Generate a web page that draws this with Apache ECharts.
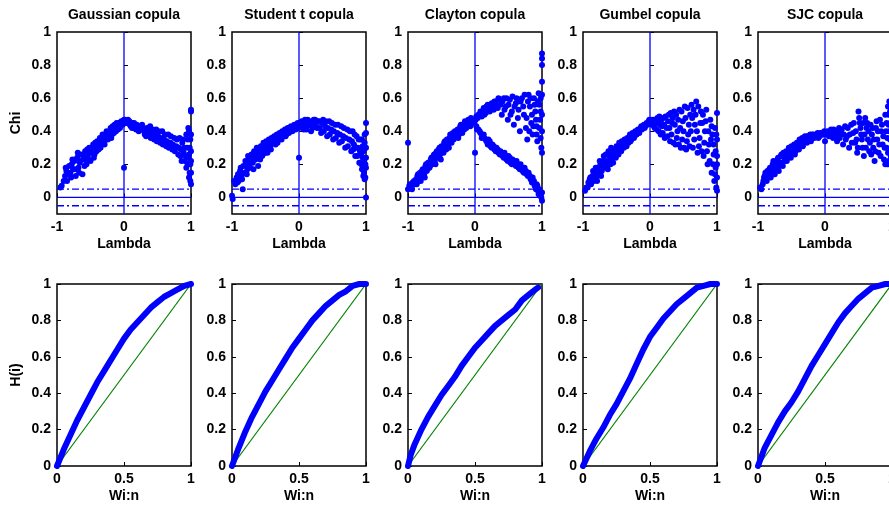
<!DOCTYPE html>
<html>
<head>
<meta charset="utf-8">
<script src="https://cdn.jsdelivr.net/npm/echarts@6/dist/echarts.min.js"></script>
<style>
  html, body { margin: 0; padding: 0; background: #fff; }
  #chart { width: 889px; height: 506px; }
</style>
</head>
<body>
<div id="chart"></div>
<script>
// copula names (panel titles)
var copulas = ['Gaussian copula', 'Student t copula', 'Clayton copula', 'Gumbel copula', 'SJC copula'];

// chi-plot points [lambda, chi]
var chiGaussian = [[-0.95,0.06],[-0.93,0.07],[-0.88,0.13],[-0.86,0.16],[-0.85,0.1],[-0.82,0.19],[-0.8,0.15],[-0.78,0.2],[-0.76,0.17],[-0.74,0.22],[-0.72,0.13],[-0.7,0.24],[-0.68,0.18],[-0.66,0.21],[-0.64,0.26],[-0.62,0.14],[-0.6,0.23],[-0.58,0.28],[-0.56,0.2],[-0.54,0.25],[-0.52,0.3],[-0.5,0.22],[-0.48,0.27],[-0.46,0.32],[-0.44,0.26],[-0.42,0.3],[-0.4,0.34],[-0.38,0.29],[-0.36,0.36],[-0.34,0.32],[-0.32,0.38],[-0.3,0.34],[-0.28,0.37],[-0.26,0.4],[-0.24,0.35],[-0.22,0.39],[-0.2,0.42],[-0.18,0.38],[-0.16,0.41],[-0.14,0.44],[-0.12,0.4],[-0.1,0.43],[-0.08,0.45],[-0.06,0.42],[-0.04,0.46],[-0.02,0.44],[0,0.47],[0,0.18],
  [-0.9,0.1],[-0.87,0.18],[-0.83,0.14],[-0.79,0.12],[-0.77,0.23],[-0.73,0.17],[-0.69,0.27],[-0.67,0.15],[-0.65,0.22],[-0.61,0.25],[-0.59,0.19],[-0.57,0.24],[-0.55,0.29],[-0.53,0.23],[-0.51,0.27],[-0.47,0.3],[-0.45,0.24],[-0.43,0.33],[-0.41,0.28],[-0.39,0.32],[-0.37,0.33],[-0.35,0.3],[-0.33,0.35],[-0.31,0.37],[-0.29,0.32],[-0.27,0.35],[-0.25,0.38],[-0.23,0.37],[-0.21,0.4],[-0.19,0.36],[-0.17,0.43],[-0.15,0.39],[-0.13,0.42],[-0.11,0.45],[-0.09,0.41],[-0.07,0.43],[-0.05,0.44],[-0.03,0.45],[-0.01,0.46],
  [0.02,0.47],[0.05,0.45],[0.08,0.46],[0.1,0.43],[0.13,0.45],[0.16,0.42],[0.19,0.44],[0.22,0.4],[0.25,0.43],[0.28,0.41],[0.31,0.38],[0.34,0.42],[0.37,0.39],[0.4,0.36],[0.43,0.41],[0.46,0.38],[0.49,0.34],[0.52,0.4],[0.55,0.36],[0.58,0.32],[0.61,0.38],[0.64,0.34],[0.67,0.3],[0.7,0.37],[0.73,0.32],[0.76,0.28],[0.79,0.35],[0.82,0.3],[0.84,0.25],[0.87,0.33],[0.89,0.27],[0.91,0.22],[0.93,0.38],[0.94,0.3],[0.95,0.2],[0.96,0.42],[0.97,0.26],[0.98,0.15],[0.99,0.35],[0.99,0.1],[1,0.38],[1,0.22],[1,0.08],[1,0.52],[1,0.53],
  [0.03,0.45],[0.06,0.47],[0.09,0.44],[0.12,0.42],[0.15,0.45],[0.18,0.41],[0.21,0.43],[0.24,0.41],[0.27,0.44],[0.3,0.4],[0.33,0.37],[0.36,0.41],[0.39,0.43],[0.42,0.38],[0.45,0.35],[0.48,0.41],[0.51,0.37],[0.54,0.33],[0.57,0.4],[0.6,0.35],[0.63,0.31],[0.66,0.38],[0.69,0.33],[0.72,0.29],[0.75,0.36],[0.78,0.31],[0.81,0.26],[0.83,0.36],[0.85,0.29],[0.86,0.22],[0.88,0.35],[0.9,0.3],[0.92,0.25],[0.93,0.18],[0.95,0.35],[0.96,0.24],[0.97,0.4],[0.97,0.12],[0.98,0.3],[0.99,0.2],[1,0.28],[1,0.15]];

var chiStudent = [[-1,0.01],[-0.99,-0.01],[-0.97,0.1],[-0.95,0.08],[-0.93,0.12],[-0.91,0.14],[-0.9,0.1],[-0.88,0.16],[-0.86,0.13],[-0.84,0.05],[-0.83,0.19],[-0.81,0.15],[-0.79,0.2],[-0.77,0.17],[-0.75,0.23],[-0.73,0.18],[-0.71,0.26],[-0.69,0.21],[-0.67,0.28],[-0.65,0.23],[-0.63,0.3],[-0.61,0.19],[-0.59,0.27],[-0.57,0.31],[-0.55,0.25],[-0.53,0.33],[-0.51,0.29],[-0.49,0.34],[-0.47,0.27],[-0.45,0.35],[-0.43,0.31],[-0.41,0.36],[-0.39,0.33],[-0.37,0.37],[-0.35,0.32],[-0.33,0.38],[-0.31,0.35],[-0.29,0.39],[-0.27,0.36],[-0.25,0.4],[-0.23,0.37],[-0.21,0.41],[-0.19,0.38],[-0.17,0.42],[-0.15,0.39],[-0.12,0.43],[-0.1,0.4],[-0.07,0.44],[-0.05,0.41],[-0.02,0.45],[0,0.24],
  [-0.92,0.09],[-0.89,0.12],[-0.87,0.18],[-0.85,0.11],[-0.8,0.22],[-0.78,0.14],[-0.76,0.25],[-0.74,0.2],[-0.72,0.22],[-0.7,0.25],[-0.68,0.17],[-0.66,0.26],[-0.64,0.27],[-0.62,0.24],[-0.6,0.29],[-0.58,0.23],[-0.56,0.28],[-0.54,0.26],[-0.52,0.31],[-0.5,0.27],[-0.48,0.32],[-0.46,0.3],[-0.44,0.34],[-0.42,0.29],[-0.4,0.34],[-0.38,0.36],[-0.36,0.34],[-0.34,0.36],[-0.32,0.33],[-0.3,0.37],[-0.28,0.38],[-0.26,0.35],[-0.24,0.39],[-0.22,0.4],[-0.2,0.37],[-0.18,0.4],[-0.16,0.41],[-0.14,0.4],[-0.11,0.42],[-0.09,0.42],[-0.06,0.43],[-0.03,0.44],[-0.01,0.42],
  [0.02,0.43],[0.04,0.46],[0.07,0.41],[0.09,0.47],[0.12,0.43],[0.15,0.46],[0.18,0.4],[0.21,0.45],[0.24,0.47],[0.27,0.42],[0.3,0.46],[0.33,0.39],[0.36,0.47],[0.39,0.43],[0.42,0.37],[0.45,0.46],[0.48,0.41],[0.51,0.35],[0.54,0.44],[0.57,0.39],[0.6,0.33],[0.63,0.43],[0.66,0.37],[0.69,0.3],[0.72,0.41],[0.75,0.35],[0.78,0.28],[0.8,0.4],[0.82,0.32],[0.84,0.25],[0.86,0.37],[0.88,0.3],[0.9,0.21],[0.92,0.35],[0.93,0.26],[0.94,0.17],[0.95,0.31],[0.96,0.13],[0.97,0.22],[0.98,0.38],[0.98,0.11],[0.99,0.3],[1,0.45],[1,0.39],[1,0.18],[1,0],
  [0.01,0.45],[0.03,0.44],[0.05,0.42],[0.08,0.45],[0.11,0.41],[0.13,0.47],[0.16,0.44],[0.2,0.42],[0.22,0.47],[0.25,0.44],[0.28,0.46],[0.31,0.42],[0.34,0.45],[0.37,0.4],[0.4,0.46],[0.43,0.42],[0.46,0.38],[0.49,0.45],[0.52,0.4],[0.55,0.36],[0.58,0.44],[0.61,0.38],[0.64,0.34],[0.67,0.42],[0.7,0.36],[0.73,0.31],[0.76,0.4],[0.79,0.34],[0.81,0.29],[0.83,0.38],[0.85,0.3],[0.87,0.25],[0.89,0.35],[0.91,0.28],[0.93,0.2],[0.94,0.35],[0.95,0.24],[0.96,0.28],[0.97,0.15],[0.98,0.33],[0.99,0.2],[0.99,0.12],[1,0.3],[1,0.24]];

var chiClayton = [[-1,0.33],[-1,0.05],[-0.98,0.07],[-0.95,0.06],[-0.93,0.09],[-0.9,0.08],[-0.88,0.11],[-0.86,0.13],[-0.84,0.1],[-0.82,0.15],[-0.8,0.12],[-0.78,0.17],[-0.76,0.14],[-0.74,0.19],[-0.72,0.16],[-0.7,0.21],[-0.68,0.18],[-0.66,0.23],[-0.64,0.2],[-0.62,0.25],[-0.6,0.22],[-0.58,0.27],[-0.56,0.24],[-0.54,0.29],[-0.52,0.26],[-0.5,0.31],[-0.48,0.28],[-0.46,0.33],[-0.44,0.3],[-0.42,0.35],[-0.4,0.32],[-0.38,0.36],[-0.36,0.34],[-0.34,0.38],[-0.32,0.35],[-0.3,0.4],[-0.28,0.37],[-0.26,0.41],[-0.24,0.38],[-0.22,0.43],[-0.2,0.4],[-0.18,0.44],[-0.16,0.41],[-0.14,0.45],[-0.12,0.43],[-0.1,0.47],[-0.08,0.44],[-0.06,0.48],[-0.04,0.45],[-0.02,0.47],[0,0.27],
  [-0.97,0.08],[-0.94,0.05],[-0.91,0.1],[-0.87,0.08],[-0.85,0.14],[-0.81,0.1],[-0.79,0.16],[-0.75,0.12],[-0.73,0.2],[-0.71,0.17],[-0.69,0.21],[-0.67,0.19],[-0.65,0.24],[-0.63,0.21],[-0.61,0.26],[-0.59,0.2],[-0.57,0.28],[-0.55,0.25],[-0.53,0.3],[-0.51,0.23],[-0.49,0.3],[-0.47,0.27],[-0.45,0.34],[-0.43,0.29],[-0.41,0.34],[-0.39,0.3],[-0.37,0.38],[-0.35,0.33],[-0.33,0.39],[-0.31,0.36],[-0.29,0.38],[-0.27,0.4],[-0.25,0.36],[-0.23,0.41],[-0.21,0.44],[-0.19,0.39],[-0.17,0.43],[-0.15,0.46],[-0.13,0.42],[-0.11,0.44],[-0.09,0.46],[-0.07,0.43],[-0.05,0.47],[-0.03,0.46],[-0.01,0.45],
  [0.02,0.49],[0.05,0.5],[0.08,0.52],[0.1,0.49],[0.13,0.54],[0.16,0.51],[0.19,0.56],[0.22,0.52],[0.25,0.57],[0.28,0.53],[0.31,0.58],[0.34,0.54],[0.37,0.59],[0.4,0.5],[0.43,0.6],[0.46,0.55],[0.49,0.47],[0.52,0.59],[0.55,0.52],[0.58,0.44],[0.61,0.57],[0.64,0.48],[0.67,0.4],[0.7,0.6],[0.73,0.5],[0.76,0.42],[0.78,0.35],[0.8,0.62],[0.82,0.55],[0.84,0.45],[0.86,0.38],[0.88,0.6],[0.9,0.52],[0.92,0.43],[0.93,0.34],[0.95,0.63],[0.96,0.56],[0.97,0.47],[0.98,0.36],[0.99,0.3],[1,0.87],[1,0.84],[1,0.8],[1,0.7],[1,0.62],[1,0.5],[1,0.4],[1,0.27],
  [0.01,0.47],[0.04,0.48],[0.07,0.5],[0.11,0.52],[0.14,0.5],[0.17,0.55],[0.2,0.53],[0.23,0.56],[0.26,0.54],[0.29,0.58],[0.32,0.55],[0.35,0.6],[0.38,0.56],[0.41,0.58],[0.44,0.53],[0.47,0.6],[0.5,0.56],[0.53,0.5],[0.56,0.61],[0.59,0.55],[0.62,0.6],[0.65,0.53],[0.68,0.58],[0.72,0.55],[0.74,0.62],[0.77,0.48],[0.79,0.58],[0.81,0.4],[0.83,0.6],[0.85,0.5],[0.87,0.43],[0.89,0.56],[0.91,0.47],[0.92,0.38],[0.94,0.58],[0.96,0.42],[0.98,0.52],[0.98,0.6],
  [0.02,0.43],[0.05,0.41],[0.08,0.39],[0.11,0.37],[0.14,0.36],[0.17,0.34],[0.2,0.35],[0.23,0.31],[0.26,0.32],[0.29,0.29],[0.32,0.3],[0.35,0.27],[0.38,0.28],[0.41,0.25],[0.44,0.27],[0.47,0.23],[0.5,0.25],[0.53,0.21],[0.56,0.23],[0.59,0.2],[0.62,0.22],[0.65,0.18],[0.68,0.2],[0.71,0.16],[0.74,0.18],[0.77,0.14],[0.8,0.15],[0.83,0.11],[0.86,0.12],[0.89,0.07],[0.92,0.08],[0.94,0.04],[0.96,0.05],[0.98,0.01],[1,-0.02],[1,0.03],
  [0.03,0.41],[0.07,0.4],[0.1,0.36],[0.13,0.38],[0.16,0.35],[0.19,0.32],[0.22,0.34],[0.25,0.3],[0.28,0.31],[0.31,0.28],[0.34,0.29],[0.37,0.26],[0.4,0.27],[0.43,0.24],[0.46,0.25],[0.49,0.22],[0.52,0.24],[0.55,0.2],[0.58,0.22],[0.61,0.19],[0.64,0.2],[0.67,0.17],[0.7,0.18],[0.73,0.15],[0.76,0.16],[0.79,0.13],[0.82,0.13],[0.85,0.09],[0.88,0.1],[0.91,0.05],[0.93,0.07],[0.95,0.02],[0.97,0.03],[0.99,0]];

var chiGumbel = [[-0.97,0.04],[-0.95,0.06],[-0.92,0.09],[-0.9,0.11],[-0.88,0.08],[-0.86,0.13],[-0.84,0.1],[-0.82,0.15],[-0.8,0.12],[-0.78,0.18],[-0.76,0.14],[-0.74,0.2],[-0.72,0.16],[-0.7,0.22],[-0.68,0.18],[-0.66,0.26],[-0.64,0.2],[-0.62,0.28],[-0.6,0.22],[-0.58,0.3],[-0.56,0.24],[-0.54,0.29],[-0.52,0.26],[-0.5,0.31],[-0.48,0.28],[-0.46,0.33],[-0.44,0.29],[-0.42,0.34],[-0.4,0.31],[-0.38,0.35],[-0.36,0.32],[-0.34,0.36],[-0.32,0.33],[-0.3,0.38],[-0.28,0.35],[-0.26,0.39],[-0.24,0.36],[-0.22,0.4],[-0.2,0.38],[-0.18,0.41],[-0.16,0.39],[-0.14,0.42],[-0.12,0.41],[-0.1,0.43],[-0.08,0.42],[-0.06,0.44],[-0.04,0.44],[-0.02,0.46],
  [-0.93,0.06],[-0.91,0.08],[-0.89,0.12],[-0.87,0.1],[-0.85,0.16],[-0.83,0.12],[-0.81,0.18],[-0.79,0.1],[-0.77,0.16],[-0.75,0.22],[-0.73,0.13],[-0.71,0.19],[-0.69,0.25],[-0.67,0.2],[-0.65,0.22],[-0.63,0.17],[-0.61,0.25],[-0.59,0.2],[-0.57,0.26],[-0.55,0.21],[-0.53,0.28],[-0.51,0.24],[-0.49,0.3],[-0.47,0.26],[-0.45,0.31],[-0.43,0.28],[-0.41,0.33],[-0.39,0.3],[-0.37,0.34],[-0.35,0.31],[-0.33,0.35],[-0.31,0.36],[-0.29,0.34],[-0.27,0.37],[-0.25,0.38],[-0.23,0.37],[-0.21,0.39],[-0.19,0.4],[-0.17,0.4],[-0.15,0.41],[-0.13,0.43],[-0.11,0.42],[-0.09,0.44],[-0.07,0.43],[-0.05,0.45],[-0.03,0.45],[-0.01,0.47],
  [0.02,0.47],[0.04,0.45],[0.06,0.43],[0.08,0.47],[0.1,0.41],[0.12,0.45],[0.14,0.49],[0.16,0.38],[0.18,0.43],[0.2,0.48],[0.22,0.36],[0.25,0.42],[0.28,0.5],[0.3,0.34],[0.33,0.45],[0.36,0.52],[0.38,0.32],[0.41,0.4],[0.44,0.53],[0.46,0.3],[0.49,0.46],[0.52,0.55],[0.54,0.29],[0.57,0.38],[0.6,0.5],[0.62,0.56],[0.64,0.3],[0.67,0.44],[0.69,0.58],[0.71,0.27],[0.74,0.36],[0.76,0.52],[0.78,0.45],[0.8,0.25],[0.82,0.4],[0.84,0.53],[0.86,0.2],[0.88,0.32],[0.9,0.47],[0.92,0.15],[0.93,0.38],[0.95,0.26],[0.96,0.1],[0.97,0.42],[0.98,0.18],[0.99,0.06],[1,0.51],[1,0.35],[1,0.25],[1,0.04],
  [0.01,0.46],[0.03,0.44],[0.05,0.47],[0.07,0.42],[0.09,0.45],[0.11,0.48],[0.13,0.4],[0.15,0.44],[0.17,0.47],[0.19,0.39],[0.21,0.44],[0.23,0.49],[0.26,0.37],[0.27,0.46],[0.29,0.42],[0.31,0.51],[0.32,0.38],[0.34,0.48],[0.35,0.33],[0.37,0.44],[0.39,0.5],[0.4,0.36],[0.42,0.47],[0.43,0.32],[0.45,0.42],[0.47,0.52],[0.48,0.35],[0.5,0.4],[0.51,0.3],[0.53,0.48],[0.55,0.34],[0.56,0.54],[0.58,0.44],[0.59,0.31],[0.61,0.4],[0.63,0.48],[0.65,0.53],[0.66,0.35],[0.68,0.5],[0.7,0.4],[0.72,0.55],[0.73,0.31],[0.75,0.45],[0.77,0.28],[0.79,0.5],[0.81,0.33],[0.83,0.46],[0.85,0.28],[0.87,0.4],[0.89,0.22],[0.91,0.35],[0.92,0.43],[0.94,0.2],[0.95,0.32],[0.97,0.14],[0.98,0.28],[0.99,0.38],[1,0.12],[1,0.2]];

var chiSJC = [[-0.97,0.06],[-0.95,0.05],[-0.92,0.1],[-0.9,0.13],[-0.88,0.11],[-0.86,0.16],[-0.84,0.12],[-0.82,0.18],[-0.8,0.14],[-0.78,0.2],[-0.76,0.16],[-0.74,0.21],[-0.72,0.17],[-0.7,0.24],[-0.68,0.19],[-0.66,0.25],[-0.64,0.21],[-0.62,0.27],[-0.6,0.22],[-0.58,0.28],[-0.56,0.24],[-0.54,0.3],[-0.52,0.26],[-0.5,0.31],[-0.48,0.27],[-0.46,0.32],[-0.44,0.28],[-0.42,0.33],[-0.4,0.3],[-0.38,0.35],[-0.36,0.31],[-0.34,0.36],[-0.32,0.33],[-0.3,0.37],[-0.28,0.34],[-0.26,0.37],[-0.24,0.35],[-0.22,0.38],[-0.2,0.36],[-0.17,0.38],[-0.14,0.37],[-0.11,0.39],[-0.08,0.37],[-0.05,0.39],[-0.02,0.38],[0,0.34],
  [-0.93,0.08],[-0.91,0.12],[-0.89,0.15],[-0.87,0.1],[-0.85,0.14],[-0.83,0.17],[-0.81,0.12],[-0.79,0.17],[-0.77,0.22],[-0.75,0.14],[-0.73,0.19],[-0.71,0.23],[-0.69,0.16],[-0.67,0.21],[-0.65,0.26],[-0.63,0.19],[-0.61,0.24],[-0.59,0.26],[-0.57,0.22],[-0.55,0.27],[-0.53,0.29],[-0.51,0.24],[-0.49,0.29],[-0.47,0.3],[-0.45,0.26],[-0.43,0.31],[-0.41,0.32],[-0.39,0.29],[-0.37,0.33],[-0.35,0.34],[-0.33,0.31],[-0.31,0.35],[-0.29,0.36],[-0.27,0.33],[-0.25,0.37],[-0.23,0.36],[-0.21,0.34],[-0.19,0.38],[-0.16,0.36],[-0.13,0.38],[-0.1,0.36],[-0.07,0.39],[-0.04,0.38],[-0.01,0.4],
  [0.03,0.39],[0.06,0.37],[0.09,0.41],[0.12,0.36],[0.15,0.4],[0.18,0.34],[0.21,0.42],[0.24,0.38],[0.27,0.32],[0.3,0.43],[0.33,0.37],[0.36,0.3],[0.39,0.44],[0.42,0.39],[0.45,0.33],[0.48,0.27],[0.5,0.52],[0.52,0.45],[0.54,0.38],[0.56,0.3],[0.58,0.25],[0.6,0.48],[0.62,0.42],[0.64,0.35],[0.66,0.28],[0.68,0.44],[0.7,0.38],[0.72,0.3],[0.74,0.22],[0.76,0.42],[0.78,0.35],[0.8,0.27],[0.82,0.47],[0.84,0.4],[0.86,0.32],[0.88,0.23],[0.9,0.5],[0.91,0.4],[0.92,0.3],[0.93,0.2],[0.94,0.55],[0.95,0.44],[0.96,0.58],[0.97,0.35],[0.98,0.25],
  [0.01,0.38],[0.04,0.4],[0.07,0.39],[0.1,0.38],[0.13,0.41],[0.16,0.37],[0.19,0.4],[0.22,0.36],[0.25,0.41],[0.28,0.38],[0.31,0.35],[0.34,0.42],[0.37,0.38],[0.4,0.33],[0.43,0.45],[0.46,0.4],[0.47,0.35],[0.49,0.3],[0.51,0.48],[0.53,0.42],[0.55,0.35],[0.57,0.45],[0.59,0.38],[0.61,0.3],[0.63,0.45],[0.65,0.4],[0.67,0.33],[0.69,0.26],[0.71,0.42],[0.73,0.35],[0.75,0.28],[0.77,0.46],[0.79,0.4],[0.81,0.32],[0.83,0.25],[0.85,0.44],[0.87,0.37],[0.89,0.3],[0.9,0.2],[0.92,0.45],[0.93,0.36],[0.94,0.27],[0.95,0.5],[0.96,0.4],[0.97,0.52],[0.98,0.45],[0.95,0.22]];

// K-plot curves [Wi:n, H(i)]
var kGaussian = [[0,0],[0.05,0.09],[0.1,0.17],[0.15,0.25],[0.2,0.32],[0.25,0.39],[0.3,0.46],[0.35,0.52],[0.4,0.58],[0.45,0.64],[0.5,0.7],[0.55,0.75],[0.6,0.79],[0.65,0.83],[0.7,0.87],[0.75,0.9],[0.8,0.93],[0.85,0.95],[0.9,0.97],[0.95,0.99],[1,1]];
var kStudent = [[0,0],[0.05,0.1],[0.1,0.19],[0.15,0.27],[0.2,0.34],[0.25,0.41],[0.3,0.47],[0.35,0.53],[0.4,0.59],[0.45,0.65],[0.5,0.7],[0.55,0.75],[0.6,0.8],[0.65,0.84],[0.7,0.88],[0.75,0.91],[0.8,0.94],[0.85,0.96],[0.9,0.99],[0.95,1],[1,1]];
var kClayton = [[0,0],[0.02,0.06],[0.05,0.12],[0.1,0.2],[0.15,0.27],[0.2,0.33],[0.25,0.39],[0.3,0.44],[0.35,0.49],[0.4,0.55],[0.45,0.6],[0.5,0.65],[0.55,0.69],[0.6,0.73],[0.65,0.77],[0.7,0.8],[0.75,0.83],[0.8,0.86],[0.85,0.91],[0.9,0.94],[0.95,0.97],[0.97,0.98]];
var kGumbel = [[0,0],[0.05,0.08],[0.1,0.15],[0.15,0.21],[0.2,0.28],[0.25,0.34],[0.3,0.41],[0.35,0.48],[0.4,0.56],[0.45,0.64],[0.5,0.71],[0.55,0.76],[0.6,0.81],[0.65,0.85],[0.7,0.89],[0.75,0.92],[0.8,0.95],[0.85,0.98],[0.9,0.99],[0.95,1],[1,1]];
var kSJC = [[0,0],[0.05,0.1],[0.1,0.17],[0.15,0.24],[0.2,0.3],[0.25,0.35],[0.3,0.41],[0.35,0.48],[0.4,0.55],[0.45,0.61],[0.5,0.67],[0.55,0.73],[0.6,0.79],[0.65,0.84],[0.7,0.88],[0.75,0.92],[0.8,0.95],[0.85,0.98],[0.9,0.99],[0.95,1],[1,1]];

var chiData = [chiGaussian, chiStudent, chiClayton, chiGumbel, chiSJC];
var kData = [kGaussian, kStudent, kClayton, kGumbel, kSJC];

// tick labels / reference levels
var chiTicks = [0, 0.2, 0.4, 0.6, 0.8, 1];
var lambdaTicks = [-1, 0, 1];
var kTicks = [0, 0.2, 0.4, 0.6, 0.8, 1];
var wTicks = [0, 0.5, 1];
var chiBand = [-0.05, 0.05];

var myChart = echarts.init(document.getElementById('chart'));

var panelLeft = [57, 232, 408, 583, 758];
var panelW = 134;
var blue = '#0000ff';
var font = 'Arial, "Liberation Sans", sans-serif';
var lbl = { color: '#000', fontWeight: 'bold', fontSize: 14, fontFamily: font };

var grids = [], xAxes = [], yAxes = [], series = [], titles = [];

function axisCommon(ticks) {
  return {
    axisLine: { show: false },
    splitLine: { show: false },
    axisTick: { inside: true, length: 4, lineStyle: { color: '#000' }, customValues: ticks },
    axisLabel: Object.assign({ customValues: ticks, margin: 6 }, lbl),
    nameTextStyle: lbl
  };
}

for (var i = 0; i < 5; i++) {
  titles.push({
    text: copulas[i], left: panelLeft[i] + panelW / 2, top: 8, textAlign: 'center', padding: 0,
    textStyle: { color: '#000', fontWeight: 'bold', fontSize: 14, fontFamily: font }
  });

  // top row: chi-plot
  grids.push({ left: panelLeft[i], top: 32, width: panelW, height: 182, show: true,
    outerBoundsMode: 'none', borderColor: '#000', borderWidth: 1.5, backgroundColor: '#fff' });
  var gTop = grids.length - 1;
  xAxes.push(Object.assign(axisCommon(lambdaTicks), {
    gridIndex: gTop, type: 'value', min: -1, max: 1,
    name: 'Lambda', nameLocation: 'middle', nameGap: 23
  }));
  yAxes.push(Object.assign(axisCommon(chiTicks), {
    gridIndex: gTop, type: 'value', min: -0.1, max: 1,
    name: i === 0 ? 'Chi' : '', nameLocation: 'middle', nameGap: 34
  }));

  series.push({
    type: 'scatter', xAxisIndex: gTop, yAxisIndex: gTop, data: chiData[i],
    symbol: 'circle', symbolSize: 6, itemStyle: { color: blue, opacity: 1 }, silent: true
  });
  series.push({
    type: 'line', xAxisIndex: gTop, yAxisIndex: gTop, showSymbol: false, silent: true,
    data: [[0, -0.1], [0, 1]], lineStyle: { color: blue, width: 1.3 }
  });
  series.push({
    type: 'line', xAxisIndex: gTop, yAxisIndex: gTop, showSymbol: false, silent: true,
    data: [[-1, 0], [1, 0]], lineStyle: { color: blue, width: 1.3 }
  });
  chiBand.forEach(function (b) {
    series.push({
      type: 'line', xAxisIndex: gTop, yAxisIndex: gTop, showSymbol: false, silent: true,
      data: [[-1, b], [1, b]], lineStyle: { color: blue, width: 1.3, type: [7, 3, 2, 3] }
    });
  });

  // bottom row: K-plot
  grids.push({ left: panelLeft[i], top: 284, width: panelW, height: 182, show: true,
    outerBoundsMode: 'none', borderColor: '#000', borderWidth: 1.5, backgroundColor: '#fff' });
  var gBot = grids.length - 1;
  xAxes.push(Object.assign(axisCommon(wTicks), {
    gridIndex: gBot, type: 'value', min: 0, max: 1,
    name: 'Wi:n', nameLocation: 'middle', nameGap: 23
  }));
  yAxes.push(Object.assign(axisCommon(kTicks), {
    gridIndex: gBot, type: 'value', min: 0, max: 1,
    name: i === 0 ? 'H(i)' : '', nameLocation: 'middle', nameGap: 34
  }));
  series.push({
    type: 'line', xAxisIndex: gBot, yAxisIndex: gBot, showSymbol: false, silent: true,
    data: [[0, 0], [1, 1]], lineStyle: { color: '#008000', width: 1.2 }
  });
  series.push({
    type: 'line', xAxisIndex: gBot, yAxisIndex: gBot, showSymbol: false, silent: true,
    data: kData[i], lineStyle: { color: blue, width: 6, cap: 'round', join: 'round' }
  });
}

var option = {
  animation: false,
  backgroundColor: '#fff',
  title: titles,
  grid: grids,
  xAxis: xAxes,
  yAxis: yAxes,
  series: series
};
myChart.setOption(option);
</script>
</body>
</html>
